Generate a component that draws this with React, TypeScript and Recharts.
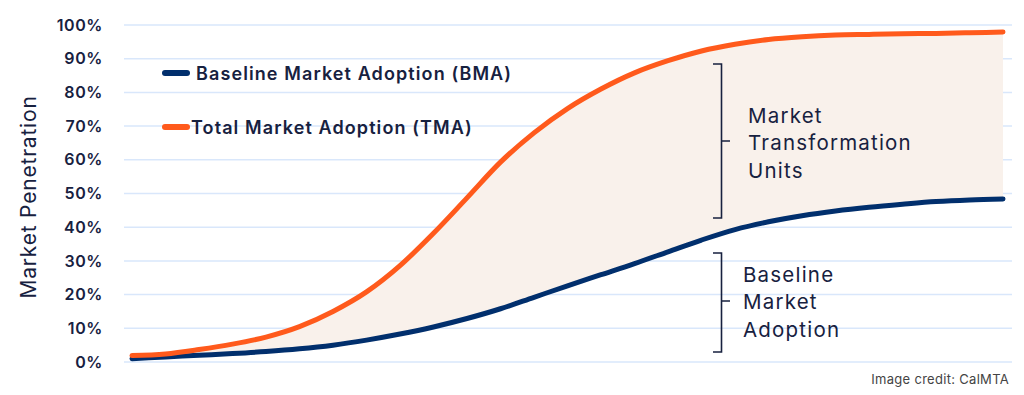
import React from 'react';
import { ComposedChart, Line, Area, XAxis, YAxis, CartesianGrid, Legend } from 'recharts';

const periods = [1, 2, 3, 4, 5, 6, 7, 8, 9, 10, 11, 12, 13, 14, 15, 16, 17, 18, 19, 20, 21, 22, 23, 24, 25, 26, 27];
const bmaValues = [1.0, 1.5, 2.0, 2.5, 3.1, 3.9, 5.0, 6.5, 8.3, 10.4, 12.9, 15.8, 19.2, 22.6, 25.9, 29.2, 32.7, 36.2, 39.3, 41.6, 43.4, 44.8, 45.9, 46.8, 47.6, 48.1, 48.4];
const tmaValues = [1.9, 2.4, 3.7, 5.3, 7.4, 10.5, 15.0, 20.8, 28.6, 38.2, 48.7, 59.3, 68.0, 75.2, 81.0, 85.8, 89.4, 92.3, 94.3, 95.7, 96.5, 97.0, 97.2, 97.4, 97.5, 97.7, 97.9];
const yTicks = [0, 10, 20, 30, 40, 50, 60, 70, 80, 90, 100];
const seriesNames = ['Baseline Market Adoption (BMA)', 'Total Market Adoption (TMA)'];

const NAVY = '#012f6d';
const ORANGE = '#ff5a1c';
const FILL = '#f9f1eb';
const TEXT = '#17213f';
const FONT = 'Inter, "Noto Sans", sans-serif';

const data = periods.map((p, i) => ({
  p,
  bma: bmaValues[i],
  tma: tmaValues[i],
  band: [bmaValues[i], tmaValues[i]],
}));

const LegendContent = () => (
  <div style={{ fontFamily: FONT, color: TEXT, fontSize: 18, fontWeight: 600, letterSpacing: 1.1, textAlign: 'left' }}>
    <div style={{ display: 'flex', alignItems: 'center', height: 24 }}>
      <span style={{ display: 'inline-block', width: 28, height: 6, borderRadius: 3, background: NAVY, marginRight: 6 }} />
      <span>{seriesNames[0]}</span>
    </div>
    <div style={{ display: 'flex', alignItems: 'center', height: 24, marginTop: 30 }}>
      <span style={{ display: 'inline-block', width: 28, height: 6, borderRadius: 3, background: ORANGE, marginRight: 1 }} />
      <span>{seriesNames[1]}</span>
    </div>
  </div>
);

const annoText = { fontSize: 20.5, letterSpacing: 1.2, fill: TEXT, fontFamily: FONT, dominantBaseline: 'central' as const };

export default function App() {
  return (
    <div style={{ position: 'absolute', left: 0, top: 0, width: 1024, height: 395, background: '#fff', fontFamily: FONT }}>
      <ComposedChart width={1024} height={395} data={data} margin={{ top: 25, right: 12, bottom: 33, left: 64 }}>
        <CartesianGrid horizontal vertical={false} stroke="#d9e7fb" strokeWidth={1.5} />
        <XAxis dataKey="p" type="number" domain={[1, 27]} hide padding={{ left: 8, right: 9 }} />
        <YAxis
          domain={[0, 100]}
          ticks={yTicks}
          width={60}
          axisLine={false}
          tickLine={false}
          tickMargin={15}
          tickFormatter={(v: number) => `${v}%`}
          tick={{ fill: TEXT, fontSize: 16, fontWeight: 600, fontFamily: FONT, letterSpacing: 0.6 }}
        />
        <Legend
          layout="horizontal"
          verticalAlign="middle"
          align="center"
          wrapperStyle={{ position: 'absolute', left: 162, top: 61, width: 420, height: 80 }}
          content={LegendContent}
        />
        <Area type="monotone" dataKey="band" fill={FILL} fillOpacity={1} stroke="none" isAnimationActive={false} legendType="none" />
        <Line type="monotone" dataKey="bma" name={seriesNames[0]} stroke={NAVY} strokeWidth={5} strokeLinecap="round" dot={false} isAnimationActive={false} />
        <Line type="monotone" dataKey="tma" name={seriesNames[1]} stroke={ORANGE} strokeWidth={5} strokeLinecap="round" dot={false} isAnimationActive={false} />
      </ComposedChart>
      <svg width={1024} height={395} style={{ position: 'absolute', left: 0, top: 0, pointerEvents: 'none' }}>
        <text x={28} y={197} transform="rotate(-90, 28, 197)" textAnchor="middle" {...annoText} fontSize={21} letterSpacing={0.8}>Market Penetration</text>

        <path d="M713 64 H721.5 V218 H713 M721.5 141 H730" stroke={TEXT} strokeWidth={1.6} fill="none" />
        <text x={748} y={115} {...annoText}>Market</text>
        <text x={748} y={142.5} {...annoText}>Transformation</text>
        <text x={748} y={170} {...annoText}>Units</text>

        <path d="M713 253 H721.5 V352 H713 M721.5 301 H730" stroke={TEXT} strokeWidth={1.6} fill="none" />
        <text x={743} y={274} {...annoText}>Baseline</text>
        <text x={743} y={301.5} {...annoText}>Market</text>
        <text x={743} y={329} {...annoText}>Adoption</text>

        <text x={1009} y={379} textAnchor="end" {...annoText} fontSize={13} letterSpacing={0.3} fill="#444">Image credit: CalMTA</text>
      </svg>
    </div>
  );
}
